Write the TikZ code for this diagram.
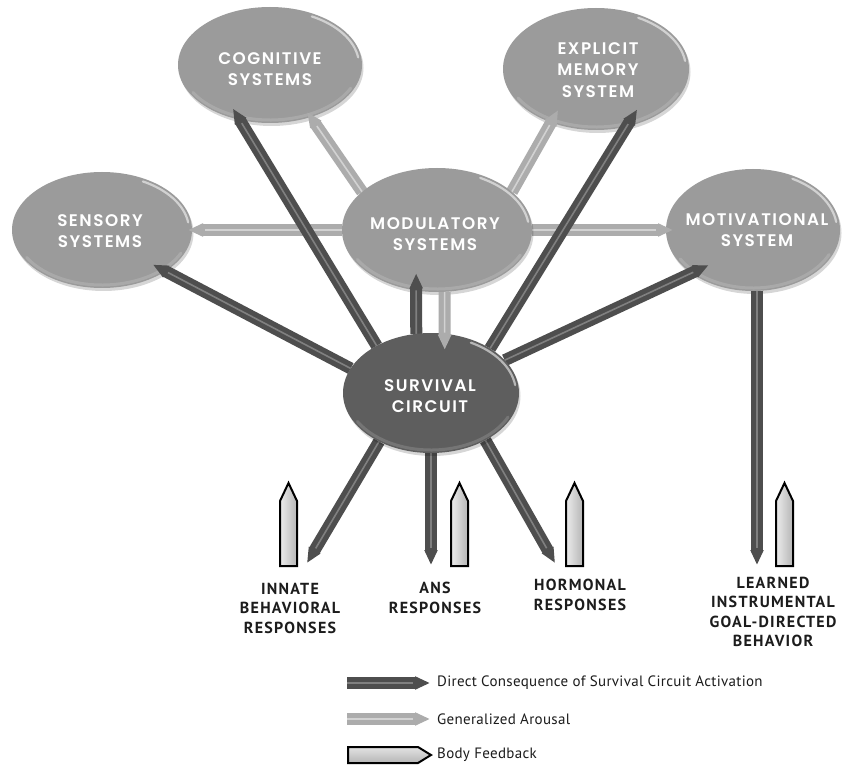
\documentclass[tikz,border=0pt]{standalone}
\usepackage{fontspec}
\setmainfont{PT Sans}[LetterSpace=2]
\newfontfamily\bubblefont{Poppins SemiBold}[LetterSpace=9]
\newfontfamily\capfont{PT Sans}[LetterSpace=8]
\usetikzlibrary{arrows.meta,shapes.geometric,shadows}

\definecolor{bubblefill}{RGB}{155,155,155}
\definecolor{survfill}{RGB}{94,94,94}
\definecolor{dkbar}{RGB}{78,78,78}
\definecolor{dkhi}{RGB}{128,128,128}
\definecolor{ltbar}{RGB}{172,172,172}
\definecolor{lthi}{RGB}{210,210,210}
\definecolor{inktext}{RGB}{28,28,28}

\pgfdeclarelayer{paper}
\pgfdeclarelayer{bubbles}
\pgfdeclarelayer{light}
\pgfdeclarelayer{modl}
\pgfdeclarelayer{dark}
\pgfdeclarelayer{top}
\pgfsetlayers{paper,bubbles,light,modl,dark,main,top}

\tikzset{
  bubble/.style={ellipse, fill=bubblefill, inner sep=0pt, outer sep=0pt,
    drop shadow={shadow xshift=1.5pt, shadow yshift=-3pt, opacity=0.16, fill=black}},
  survbubble/.style={bubble, fill=survfill},
  btext/.style={font=\bubblefont\fontsize{16.8}{21.5}\selectfont, text=white,
    align=center, inner sep=0pt},
  dkbody/.style={draw=dkbar, line width=12pt, -{Triangle[length=15pt,width=12.4pt]}},
  dkline/.style={draw=dkhi, line width=1.6pt},
  ltbody/.style={draw=ltbar, line width=12pt, -{Triangle[length=15pt,width=12.4pt]}},
  ltline/.style={draw=lthi, line width=1.6pt},
  rimhi/.style={white, opacity=0.55, line width=2.2pt, line cap=round},
  rimlo/.style={white, opacity=0.15, line width=3pt, line cap=round},
  caption/.style={font=\capfont\bfseries\fontsize{16}{19.5}\selectfont,
    align=center, inner sep=0pt, text=inktext},
  legtext/.style={font=\fontsize{15}{17}\selectfont, inner sep=0pt,
    anchor=west, text=inktext},
  fbshape/.style={draw=black, line width=2pt, line join=miter,
    left color=gray!15, right color=gray!58},
  fblegend/.style={draw=black, line width=2pt, line join=miter,
    top color=gray!22, bottom color=gray!58},
  fback/.pic={\path[fbshape] (-8.5,0) -- (-8.5,-65) -- (0,-83) -- (8.5,-65)
    -- (8.5,0) -- cycle;}
}

% pencil-shaped connector: body, centre highlight, tip pushed #5 pt past the anchor
\newcommand\pencil[5]{%
  \draw[#1, shorten >=-#5pt] (#3) -- (#4);
  \draw[#2, shorten >=17pt-#5pt] (#3) -- (#4);
}
% glossy rim on a bubble: node, inner x radius, inner y radius
\newcommand\bubblerim[3]{%
  \draw[rimhi] (#1.center) ++(-8:#2 and #3)
    arc[start angle=-8, end angle=-62, x radius=#2, y radius=#3];
  \draw[rimlo] (#1.center) ++(25:#2 and #3)
    arc[start angle=25, end angle=150, x radius=#2, y radius=#3];
}

\begin{document}
\begin{tikzpicture}[x=1pt,y=-1pt]
\useasboundingbox (0,0) rectangle (843,767);
\begin{pgfonlayer}{paper}
  \fill[white] (0,0) rectangle (843,767);
\end{pgfonlayer}

% outer system bubbles
\begin{pgfonlayer}{bubbles}
  \node[bubble, minimum width=184pt, minimum height=116pt] (cog) at (270,65) {};
  \bubblerim{cog}{89}{55}
  \node[btext] (cogT) at (270,69) {COGNITIVE\\SYSTEMS};

  \node[bubble, minimum width=186pt, minimum height=122pt] (exp) at (596,69) {};
  \bubblerim{exp}{90}{58}
  \node[btext] (expT) at (598,70) {EXPLICIT\\MEMORY\\SYSTEM};

  \node[bubble, minimum width=180pt, minimum height=116pt] (sen) at (102,230) {};
  \bubblerim{sen}{87}{55}
  \node[btext] (senT) at (100,231) {SENSORY\\SYSTEMS};

  \node[bubble, minimum width=174pt, minimum height=122pt] (mot) at (753,230) {};
  \bubblerim{mot}{84}{58}
  \node[btext] (motT) at (757,230) {MOTIVATIONAL\\SYSTEM};
\end{pgfonlayer}

\begin{pgfonlayer}{modl}
  \node[bubble, minimum width=190pt, minimum height=124pt] (mod) at (437,230) {};
  \bubblerim{mod}{92}{59}
  \node[btext] (modT) at (435,234) {MODULATORY\\SYSTEMS};
\end{pgfonlayer}

% survival circuit
\node[survbubble, minimum width=176pt, minimum height=120pt] (surv) at (431,393) {};
\bubblerim{surv}{85}{57}
\node[btext] (survT) at (430,396) {SURVIVAL\\CIRCUIT};

% free ends of the output connectors
\coordinate (tInnate) at (307,563);
\coordinate (tAns) at (431,565);
\coordinate (tHorm) at (555,563);
\coordinate (tLearn) at (757,565);

% generalized arousal from the modulatory systems
\begin{pgfonlayer}{light}
  \pencil{ltbody}{ltline}{mod.153}{cog.308}{6}
  \pencil{ltbody}{ltline}{mod.27}{exp.230}{14}
  \pencil{ltbody}{ltline}{mod.west}{sen.east}{4}
  \pencil{ltbody}{ltline}{mod.east}{mot.west}{7}
\end{pgfonlayer}

% direct consequences of survival circuit activation
\begin{pgfonlayer}{dark}
  \pencil{dkbody}{dkline}{surv.139}{cog.241}{13}
  \pencil{dkbody}{dkline}{surv.163}{sen.327}{14}
  \pencil{dkbody}{dkline}{surv.37}{exp.298}{20}
  \pencil{dkbody}{dkline}{surv.24}{mot.215}{19}
  \pencil{dkbody}{dkline}{surv.104}{mod.251}{17}
  \pencil{dkbody}{dkline}{surv.223}{tInnate}{0}
  \pencil{dkbody}{dkline}{surv.south}{tAns}{0}
  \pencil{dkbody}{dkline}{surv.319}{tHorm}{0}
  \pencil{dkbody}{dkline}{mot.south -| tLearn}{tLearn}{0}
\end{pgfonlayer}

\begin{pgfonlayer}{top}
  \pencil{ltbody}{ltline}{mod.277}{surv.77}{16}
\end{pgfonlayer}

% body feedback
\pic at (288.5,566) {fback};
\pic at (459.5,566) {fback};
\pic at (574.5,566) {fback};
\pic at (784.5,566) {fback};

% response labels
\node[caption] (innate) at (290,608) {INNATE\\BEHAVIORAL\\RESPONSES};
\node[caption] (ans) at (435,598) {ANS\\RESPONSES};
\node[caption] (horm) at (580,595) {HORMONAL\\RESPONSES};
\node[caption] (learn) at (773,612) {LEARNED\\INSTRUMENTAL\\GOAL-DIRECTED\\BEHAVIOR};

% legend
\node[legtext] (lgDirect) at (437,683) {Direct Consequence of Survival Circuit Activation};
\node[legtext] (lgArousal) at (437,719) {Generalized Arousal};
\node[legtext] (lgBody) at (437,755) {Body Feedback};
\pencil{dkbody}{dkline}{[xshift=-90pt]lgDirect.west}{[xshift=-7pt]lgDirect.west}{0}
\pencil{ltbody}{ltline}{[xshift=-90pt]lgArousal.west}{[xshift=-7pt]lgArousal.west}{0}
\path[fblegend] ([shift={(-89pt,8pt)}]lgBody.west) -- ++(70,0) -- ++(13,8)
  -- ++(-13,8) -- ++(-70,0) -- cycle;
\end{tikzpicture}
\end{document}
